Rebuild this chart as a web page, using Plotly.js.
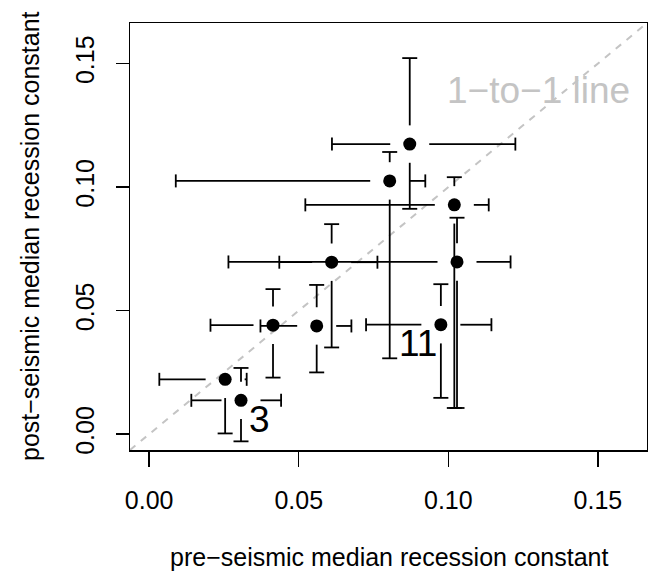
<!DOCTYPE html>
<html>
<head>
<meta charset="utf-8">
<script src="https://cdn.plot.ly/plotly-3.0.1.min.js"></script>
<style>html,body{margin:0;padding:0;background:#fff;}</style>
</head>
<body>
<div id="chart" style="width:648px;height:572px;"></div>
<script>
// ---- data ----
const pre    = [0.0871, 0.0804, 0.1020, 0.1029, 0.0610, 0.0414, 0.0560, 0.0975, 0.0254, 0.0307];
const post   = [0.1174, 0.1025, 0.0928, 0.0697, 0.0696, 0.0441, 0.0438, 0.0443, 0.0222, 0.0137];
const preLo  = [0.0611, 0.0089, 0.0522, 0.0265, 0.0435, 0.0205, 0.0372, 0.0725, 0.0034, 0.0141];
const preHi  = [0.1224, 0.0923, 0.1135, 0.1208, 0.0763, 0.0460, 0.0676, 0.1144, 0.0326, 0.0441];
const postLo = [0.0912, 0.0307, 0.0106, 0.0106, 0.0351, 0.0229, 0.0250, 0.0147, 0.0003, -0.0029];
const postHi = [0.1522, 0.1142, 0.1040, 0.0876, 0.0850, 0.0587, 0.0604, 0.0607, 0.0294, 0.0268];

const labelText = ["3", "11", "1\u2212to\u22121 line"];
const labelX    = [0.0369, 0.0898, 0.1303];
const labelY    = [0.0059, 0.0368, 0.1392];

const tickVals  = [0, 0.05, 0.10, 0.15];
const tickText  = ["0.00", "0.05", "0.10", "0.15"];
const xTitle = "pre\u2212seismic median recession constant";
const yTitle = "post\u2212seismic median recession constant";

// ---- layout constants ----
const W = 648, H = 572;
const M = {l: 130, r: 1, t: 23, b: 122};
const xRange = [-0.0064, 0.1664];
const yRange = [-0.0064, 0.1664];
const FONT = '"Liberation Sans", Arial, Helvetica, sans-serif';

const pxX = (xRange[1] - xRange[0]) / (W - M.l - M.r);
const pxY = (yRange[1] - yRange[0]) / (H - M.t - M.b);
const gapX = 19.5 * pxX, gapY = 18.7 * pxY;   // plotCI-style gap around each point
const capX = 7.5 * pxX,  capY = 6.5 * pxY;    // half-length of the end caps

// ---- error bar segments (with gap around the point) ----
const ex = [], ey = [];
function seg(x0, y0, x1, y1) { ex.push(x0, x1, null); ey.push(y0, y1, null); }
for (let i = 0; i < pre.length; i++) {
  const x = pre[i], y = post[i];
  if (postHi[i] > y + gapY) { seg(x, y + gapY, x, postHi[i]); seg(x - capX, postHi[i], x + capX, postHi[i]); }
  if (postLo[i] < y - gapY) { seg(x, y - gapY, x, postLo[i]); seg(x - capX, postLo[i], x + capX, postLo[i]); }
  if (preHi[i] > x + gapX)  { seg(x + gapX, y, preHi[i], y); seg(preHi[i], y - capY, preHi[i], y + capY); }
  if (preLo[i] < x - gapX)  { seg(x - gapX, y, preLo[i], y); seg(preLo[i], y - capY, preLo[i], y + capY); }
}

const traces = [
  { // 1-to-1 line across the whole plotting region
    x: xRange, y: xRange, mode: 'lines', type: 'scatter', hoverinfo: 'skip',
    line: {color: '#c4c4c4', width: 2, dash: '7px,7px'}
  },
  {
    x: ex, y: ey, mode: 'lines', type: 'scatter', hoverinfo: 'skip', connectgaps: false,
    line: {color: '#000', width: 1.8}
  },
  {
    x: pre, y: post, mode: 'markers', type: 'scatter',
    marker: {color: '#000', size: 13, line: {width: 0}}
  }
];

const annotations = labelText.map((t, i) => ({
  x: labelX[i], y: labelY[i], xref: 'x', yref: 'y', text: t, showarrow: false,
  xanchor: 'center', yanchor: 'middle',
  font: {family: FONT, size: 37, color: i === 2 ? '#c4c4c4' : '#000'}
}));
annotations.push({
  xref: 'paper', yref: 'paper', x: 0.5, y: 0, yshift: -107, text: xTitle, showarrow: false,
  xanchor: 'center', yanchor: 'middle', font: {family: FONT, size: 25, color: '#000'}
});
annotations.push({
  xref: 'paper', yref: 'paper', x: 0, y: 0.5, xshift: -100.5, text: yTitle, showarrow: false,
  textangle: -90, xanchor: 'center', yanchor: 'middle', font: {family: FONT, size: 25, color: '#000'}
});

const axisCommon = {
  tickvals: tickVals, ticktext: tickText, ticks: 'outside', tickcolor: '#000', tickwidth: 1.5,
  showline: true, mirror: true, linecolor: '#000', linewidth: 1.5,
  showgrid: false, zeroline: false, fixedrange: true,
  tickfont: {family: FONT, size: 25, color: '#000'}
};

const layout = {
  width: W, height: H, margin: M, showlegend: false,
  paper_bgcolor: '#fff', plot_bgcolor: '#fff',
  font: {family: FONT, color: '#000'},
  xaxis: Object.assign({}, axisCommon, {range: xRange, ticklen: 15, ticklabelstandoff: 12}),
  yaxis: Object.assign({}, axisCommon, {range: yRange, ticklen: 13, tickangle: -90, ticklabelstandoff: 12}),
  annotations: annotations
};

Plotly.newPlot('chart', traces, layout, {displayModeBar: false, staticPlot: true});
</script>
</body>
</html>
